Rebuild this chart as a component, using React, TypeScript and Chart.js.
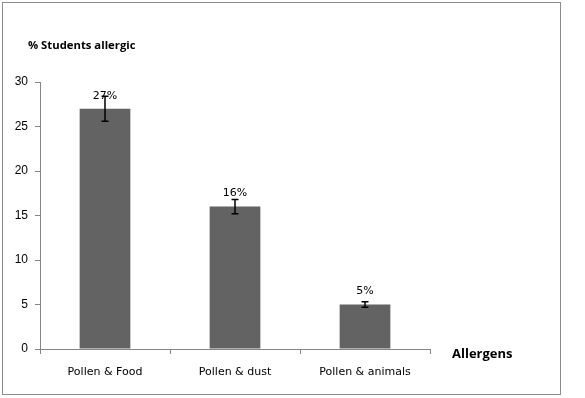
import React, { useEffect, useRef } from "react";
import { Chart, registerables } from "chart.js";

Chart.register(...registerables);

const categories = ["Pollen & Food", "Pollen & dust", "Pollen & animals"];
const values = [27, 16, 5];
const errors = [1.4, 0.8, 0.3];
const valueLabels = ["27%", "16%", "5%"];
const yTicks = [0, 5, 10, 15, 20, 25, 30];

const extrasPlugin = {
  id: "extras",
  afterDatasetsDraw(chart: any) {
    const ctx = chart.ctx;
    const meta = chart.getDatasetMeta(0);
    const ys = chart.scales.y;
    ctx.save();
    meta.data.forEach((bar: any, i: number) => {
      const x = bar.x;
      const top = ys.getPixelForValue(values[i] + errors[i]);
      const bot = ys.getPixelForValue(values[i] - errors[i]);
      ctx.strokeStyle = "#000";
      ctx.lineWidth = 1.5;
      ctx.beginPath();
      ctx.moveTo(x, top);
      ctx.lineTo(x, bot);
      ctx.moveTo(x - 3.5, top);
      ctx.lineTo(x + 3.5, top);
      ctx.moveTo(x - 3.5, bot);
      ctx.lineTo(x + 3.5, bot);
      ctx.stroke();
      ctx.fillStyle = "#000";
      ctx.font = "11px 'DejaVu Sans'";
      ctx.textAlign = "center";
      ctx.textBaseline = "middle";
      ctx.fillText(valueLabels[i], x, ys.getPixelForValue(values[i]) - 13);
    });
    ctx.font = "bold 11.3px 'Open Sans'";
    ctx.textAlign = "left";
    ctx.fillText("% Students allergic", 28, 46);
    ctx.font = "bold 13px 'Open Sans'";
    ctx.fillText("Allergens", 452, 354);
    ctx.strokeStyle = "#8c8c8c";
    ctx.lineWidth = 1;
    ctx.strokeRect(2.5, 2.5, 558, 392);
    ctx.restore();
  },
};

export default function App() {
  const ref = useRef<HTMLCanvasElement>(null);
  useEffect(() => {
    document.body.style.margin = "0";
    const chart = new Chart(ref.current!, {
      type: "bar",
      data: {
        labels: categories,
        datasets: [
          {
            data: values,
            backgroundColor: "#636363",
            barPercentage: 0.39,
            categoryPercentage: 1,
          },
        ],
      },
      options: {
        animation: false,
        responsive: false,
        layout: { padding: { top: 82, right: 155, left: 0, bottom: 0 } },
        plugins: { legend: { display: false }, tooltip: { enabled: false } },
        scales: {
          x: {
            grid: { drawOnChartArea: false, drawTicks: true, tickLength: 5, color: "#868686", offset: true },
            border: { color: "#868686" },
            ticks: { color: "#000", font: { family: "DejaVu Sans", size: 11 }, padding: 12 },
            afterFit: (s: any) => { s.height = 49; },
          },
          y: {
            min: 0,
            max: 30,
            afterBuildTicks: (s: any) => { s.ticks = yTicks.map((v) => ({ value: v })); },
            grid: { drawOnChartArea: false, drawTicks: true, tickLength: 5, color: "#868686" },
            border: { color: "#868686" },
            ticks: { color: "#000", font: { family: "Liberation Sans", size: 12 }, padding: 7 },
            afterFit: (s: any) => { s.width = 40; },
          },
        },
      },
      plugins: [extrasPlugin],
    });
    return () => chart.destroy();
  }, []);
  return (
    <div style={{ position: "fixed", left: 0, top: 0, width: 585, height: 398, background: "#fff" }}>
      <canvas ref={ref} width={585} height={398} style={{ width: 585, height: 398, display: "block" }} />
    </div>
  );
}
